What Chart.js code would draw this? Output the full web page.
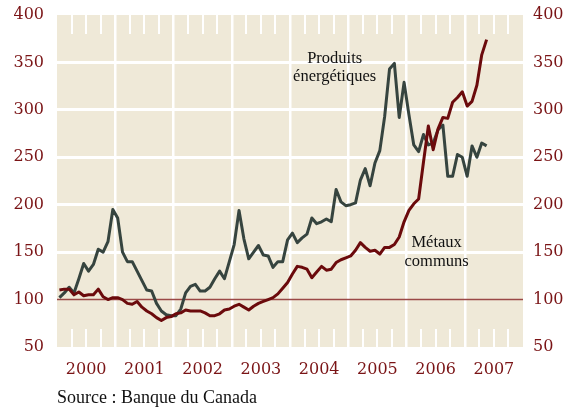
<!DOCTYPE html>
<html>
<head>
<meta charset="utf-8">
<script src="https://cdn.jsdelivr.net/npm/chart.js@4"></script>
<style>
  html, body { margin: 0; padding: 0; background: #fff; }
  #wrap { width: 568px; height: 407px; }
</style>
</head>
<body>
<div id="wrap"><canvas id="chart" width="568" height="407"></canvas></div>
<script>
// monthly index values, Jan 2000 -> May 2007
const years = ['2000', '2001', '2002', '2003', '2004', '2005', '2006', '2007'];
const yTicks = [50, 100, 150, 200, 250, 300, 350, 400];
const baseLevel = 100;

const energie = [
    102, 107, 113, 107, 122, 138, 130, 137, 153, 150, 161, 195,
    186, 150, 140, 140, 130, 120, 110, 109, 96, 88, 84, 83,
    83, 90, 107, 114, 116, 109, 109, 113, 122, 130, 122, 140,
    158, 194, 164, 143, 150, 157, 147, 146, 134, 140, 140, 163,
    170, 160, 165, 169, 186, 180, 182, 185, 182, 216, 203, 199,
    200, 202, 226, 238, 220, 244, 257, 293, 343, 349, 292, 329,
    295, 263, 256, 274, 263, 265, 279, 284, 230, 230, 253, 250,
    230, 262, 250, 265, 262
];

const metaux = [
    110, 111, 111, 105, 108, 104, 105, 105, 111, 103, 100, 102,
    102, 100, 96, 95, 98, 92, 88, 85, 81, 78, 81, 82,
    85, 86, 89, 88, 88, 88, 86, 83, 83, 85, 89, 90,
    93, 95, 92, 89, 93, 96, 98, 100, 102, 106, 112, 118,
    127, 135, 134, 132, 123, 129, 135, 131, 132, 139, 142, 144,
    146, 152, 160, 155, 151, 152, 148, 155, 155, 158, 166, 182,
    194, 201, 206, 245, 283, 258, 280, 292, 291, 308, 313, 319,
    304, 309, 326, 358, 374
];

const labels = [
    { text: 'Produits', x: 57.2, y: 349 },
    { text: 'énergétiques', x: 57.2, y: 330.5 },
    { text: 'Métaux', x: 78.2, y: 155 },
    { text: 'communs', x: 78.2, y: 135.5 }
];

const tickRed = '#7a1416';
const beige = '#efe9d8';
const serif = '"DejaVu Serif", serif';

function toPoints(values) {
    // month i is drawn in the middle of its month slot
    return values.map(function (v, i) {
        return { x: i + 0.5, y: v };
    });
}

const nMonths = years.length * 12;

const backgroundPlugin = {
    id: 'background',
    beforeDraw(chart) {
        const a = chart.chartArea;
        const ctx = chart.ctx;
        ctx.save();
        ctx.fillStyle = beige;
        ctx.fillRect(a.left, a.top, a.right - a.left, a.bottom - a.top);
        ctx.restore();
    },
    beforeDatasetsDraw(chart) {
        // short white quarter marks at top and bottom of the plot
        const a = chart.chartArea;
        const ctx = chart.ctx;
        const xs = chart.scales.x;
        ctx.save();
        ctx.strokeStyle = '#ffffff';
        ctx.lineWidth = 2;
        for (let m = 3; m < nMonths; m += 3) {
            if (m % 12 === 0) continue;
            const px = Math.round(xs.getPixelForValue(m));
            ctx.beginPath();
            ctx.moveTo(px, a.top);
            ctx.lineTo(px, a.top + 19);
            ctx.moveTo(px, a.bottom - 18);
            ctx.lineTo(px, a.bottom);
            ctx.stroke();
        }
        ctx.restore();
    },
    afterDraw(chart) {
        const ctx = chart.ctx;
        const xs = chart.scales.x;
        const ys = chart.scales.y;
        ctx.save();
        ctx.fillStyle = '#111111';
        ctx.textAlign = 'center';
        ctx.textBaseline = 'alphabetic';
        ctx.font = '16.5px "Liberation Serif", serif';
        labels.forEach(function (l) {
            ctx.fillText(l.text, xs.getPixelForValue(l.x), ys.getPixelForValue(l.y));
        });
        ctx.textAlign = 'left';
        ctx.font = '18px "Liberation Serif", serif';
        ctx.fillText('Source : Banque du Canada', chart.chartArea.left, 403);
        ctx.restore();
    }
};

const yAxis = function (position, padding, width) {
    return {
        type: 'linear',
        position: position,
        min: 50,
        max: 400,
        afterBuildTicks: function (scale) {
            scale.ticks = yTicks.map(function (v) { return { value: v }; });
        },
        afterFit: function (scale) {
            scale.width = width;
            scale.paddingTop = 0;
            scale.paddingBottom = 0;
        },
        border: { display: false },
        grid: {
            display: position === 'left',
            drawTicks: false,
            lineWidth: 3,
            color: function (ctx) {
                const v = ctx.tick.value;
                return (v >= 150 && v <= 350) ? '#ffffff' : 'rgba(0,0,0,0)';
            }
        },
        ticks: {
            padding: padding,
            color: tickRed,
            font: { family: serif, size: 16 }
        }
    };
};

const config = {
    type: 'line',
    data: {
        datasets: [
            {
                label: 'Métaux communs',
                data: toPoints(metaux),
                borderColor: '#6b0a0c',
                borderWidth: 3,
                pointRadius: 0,
                tension: 0,
                borderJoinStyle: 'round'
            },
            {
                label: 'Produits énergétiques',
                data: toPoints(energie),
                borderColor: '#36443f',
                borderWidth: 3,
                pointRadius: 0,
                tension: 0,
                borderJoinStyle: 'round'
            },
            {
                label: 'base',
                data: [{ x: 0, y: baseLevel }, { x: nMonths, y: baseLevel }],
                borderColor: '#9a4846',
                borderWidth: 1.5,
                pointRadius: 0
            }
        ]
    },
    options: {
        responsive: false,
        animation: false,
        layout: { padding: { top: 15, left: 0, right: 0, bottom: 0 } },
        plugins: {
            legend: { display: false },
            tooltip: { enabled: false }
        },
        scales: {
            x: {
                type: 'linear',
                min: 0,
                max: nMonths,
                afterBuildTicks: function (scale) {
                    const t = [];
                    for (let m = 0; m <= nMonths; m += 3) t.push({ value: m });
                    scale.ticks = t;
                },
                afterFit: function (scale) {
                    scale.height = 60;
                    scale.paddingLeft = 0;
                    scale.paddingRight = 0;
                },
                border: { display: false },
                grid: {
                    drawTicks: false,
                    lineWidth: 2.5,
                    color: function (ctx) {
                        const v = ctx.tick.value;
                        return (v % 12 === 0 && v > 0 && v < nMonths) ? '#ffffff' : 'rgba(0,0,0,0)';
                    }
                },
                ticks: {
                    autoSkip: false,
                    maxRotation: 0,
                    padding: 13,
                    color: tickRed,
                    font: { family: serif, size: 16 },
                    callback: function (v) {
                        return (v % 12 === 6) ? years[(v - 6) / 12] : '';
                    }
                }
            },
            y: yAxis('left', 13, 57),
            y2: yAxis('right', 10, 45)
        }
    },
    plugins: [backgroundPlugin]
};

new Chart(document.getElementById('chart'), config);
</script>
</body>
</html>
